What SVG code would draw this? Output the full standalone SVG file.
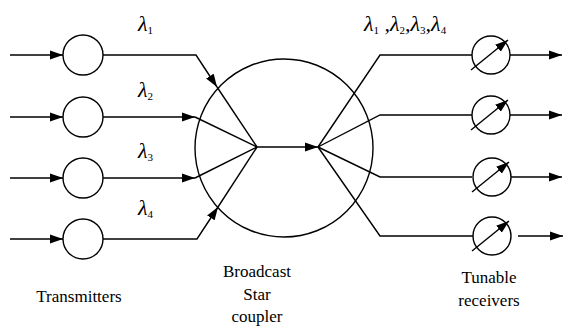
<svg xmlns="http://www.w3.org/2000/svg" width="566" height="329" viewBox="0 0 566 329">
<style>
.ln{fill:none;stroke:#000;stroke-width:1.4}
.nd{fill:#fff;stroke:#000;stroke-width:1.4}
</style>
<defs>
<marker id="ah" markerUnits="userSpaceOnUse" markerWidth="14" markerHeight="10" refX="13" refY="5" orient="auto">
<path d="M0,0.5 L13,5 L0,9.5 z" fill="#000"/>
</marker>
</defs>
<g id="connectors">
<line class="ln" x1="10" y1="55" x2="63" y2="55" marker-end="url(#ah)"/>
<line class="ln" x1="10" y1="117" x2="63" y2="117" marker-end="url(#ah)"/>
<line class="ln" x1="10" y1="178" x2="63" y2="178" marker-end="url(#ah)"/>
<line class="ln" x1="10" y1="239" x2="63" y2="239" marker-end="url(#ah)"/>
<path class="ln" d="M103,55 H196 L217,87" marker-end="url(#ah)"/>
<path class="ln" d="M217,87 L257,147"/>
<path class="ln" d="M103,117 H195" marker-end="url(#ah)"/>
<path class="ln" d="M195,117 L257,147"/>
<path class="ln" d="M103,178 H195" marker-end="url(#ah)"/>
<path class="ln" d="M195,178 L257,147"/>
<path class="ln" d="M103,239 H197 L218,207" marker-end="url(#ah)"/>
<path class="ln" d="M218,207 L257,147"/>
<line class="ln" x1="257" y1="147" x2="318" y2="147" marker-end="url(#ah)"/>
<path class="ln" d="M318,147 L380,55 H472"/>
<path class="ln" d="M318,147 L380,115 H472"/>
<path class="ln" d="M318,147 L380,177 H472"/>
<path class="ln" d="M318,147 L380,236 H473"/>
<line class="ln" x1="510" y1="55" x2="562" y2="55" marker-end="url(#ah)"/>
<line class="ln" x1="510" y1="115" x2="562" y2="115" marker-end="url(#ah)"/>
<line class="ln" x1="511" y1="177" x2="562" y2="177" marker-end="url(#ah)"/>
<line class="ln" x1="518" y1="236" x2="563" y2="236" marker-end="url(#ah)"/>
</g>
<g id="tx1"><circle class="nd" cx="83" cy="55" r="20"/></g>
<g id="tx2"><circle class="nd" cx="83" cy="117" r="20"/></g>
<g id="tx3"><circle class="nd" cx="83" cy="178" r="20"/></g>
<g id="tx4"><circle class="nd" cx="83" cy="239" r="20"/></g>
<g id="coupler"><circle class="ln" cx="284" cy="148" r="89"/></g>
<g id="rx1"><circle class="nd" cx="491" cy="55" r="19"/><line class="ln" x1="471" y1="70" x2="508" y2="40" marker-end="url(#ah)"/></g>
<g id="rx2"><circle class="nd" cx="491" cy="115" r="19"/><line class="ln" x1="471" y1="130" x2="508" y2="100" marker-end="url(#ah)"/></g>
<g id="rx3"><circle class="nd" cx="492" cy="177" r="19"/><line class="ln" x1="472" y1="192" x2="509" y2="162" marker-end="url(#ah)"/></g>
<g id="rx4"><circle class="nd" cx="492" cy="236" r="19"/><line class="ln" x1="472" y1="251" x2="509" y2="221" marker-end="url(#ah)"/></g>
<g id="lambdas" font-family="Liberation Serif, serif" font-style="italic" font-size="22" fill="#000">
<text x="138" y="31">λ<tspan font-size="11" font-style="normal" dy="3">1</tspan></text>
<text x="138" y="97">λ<tspan font-size="11" font-style="normal" dy="3">2</tspan></text>
<text x="138" y="158">λ<tspan font-size="11" font-style="normal" dy="3">3</tspan></text>
<text x="138" y="215">λ<tspan font-size="11" font-style="normal" dy="3">4</tspan></text>
<text x="364" y="31">λ<tspan font-size="11" font-style="normal" dy="3">1</tspan><tspan dy="-3"> ,</tspan>λ<tspan font-size="11" font-style="normal" dy="3">2</tspan><tspan dy="-3">,</tspan>λ<tspan font-size="11" font-style="normal" dy="3">3</tspan><tspan dy="-3">,</tspan>λ<tspan font-size="11" font-style="normal" dy="3">4</tspan></text>
</g>
<g id="captions" font-family="Liberation Serif, serif" font-size="17" fill="#000" text-anchor="middle">
<text x="79" y="302">Transmitters</text>
<text x="257" y="277">Broadcast</text>
<text x="257" y="300">Star</text>
<text x="257" y="322">coupler</text>
<text x="489" y="283">Tunable</text>
<text x="489" y="306">receivers</text>
</g>
</svg>
